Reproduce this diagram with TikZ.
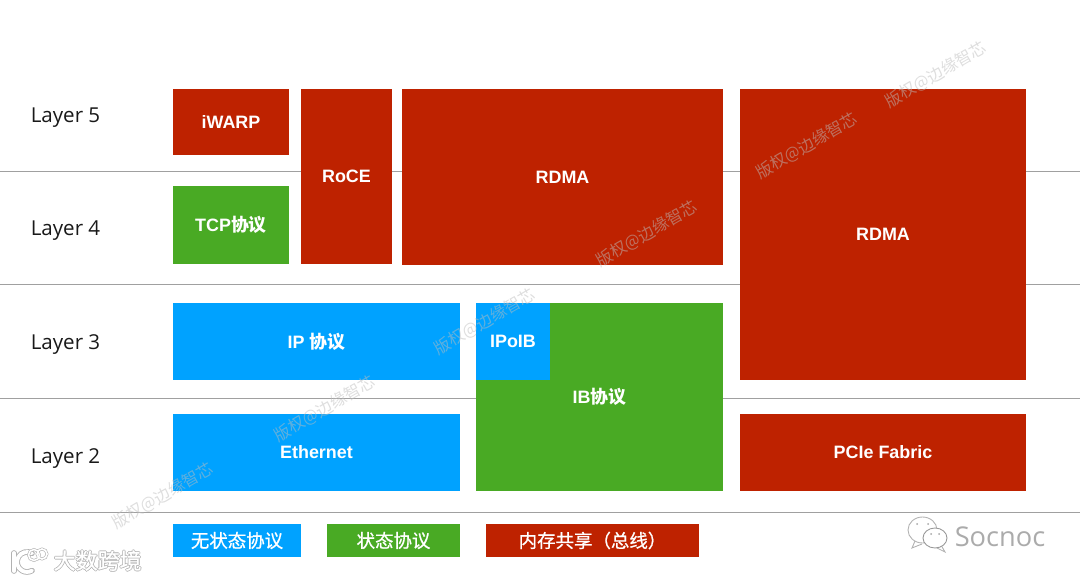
\documentclass[tikz,border=0pt]{standalone}
\usepackage{fontspec}
\setmainfont{Liberation Sans}
\newfontfamily\layerfont{Open Sans}
\newfontfamily\cjk{Noto Sans CJK SC}
\newfontfamily\cjkmed[FakeBold=0.8]{Noto Sans CJK SC}
\usetikzlibrary{positioning,calc}
\definecolor{statered}{RGB}{190,34,0}
\definecolor{stateblue}{RGB}{0,162,255}
\definecolor{stategreen}{RGB}{73,170,36}
\definecolor{layerline}{RGB}{160,160,160}
\tikzstyle{box} = [rectangle, inner sep=0pt, text=white, align=center,
                   font=\fontsize{10.2}{12}\selectfont\bfseries]
\tikzstyle{layerlabel} = [font=\fontsize{11.7}{14}\selectfont\layerfont, text=black!90]
\tikzstyle{watermark} = [rotate=30, text=black!26, text opacity=0.5,
                         font=\fontsize{9.3}{11}\selectfont\cjk]
\tikzstyle{badgeline} = [line width=\w, draw=\col]
\begin{document}
\begin{tikzpicture}[x=0.02cm, y=-0.02cm]
    \useasboundingbox (0,0) rectangle (1080,581);

    % Layer lines
    \foreach \i/\y in {1/171,2/284,3/398,4/512} {
        \coordinate (linea\i) at (0,\y);
        \coordinate (lineb\i) at (1080,\y);
        \draw[layerline, line width=0.5pt] (linea\i) -- (lineb\i);
    }

    % Layer names
    \foreach \n/\y in {5/118,4/231,3/345,2/459} {
        \node[layerlabel] (layer\n) at (65.5,\y) {Layer \n};
    }

    % Protocol boxes
    \foreach \name/\col/\l/\t/\r/\b/\txt in {
        iwarp/statered/173/89/289/155/iWARP,
        tcp/stategreen/173/186/289/264/{TCP{\cjk 协议}},
        roce/statered/301/89/392/264/RoCE,
        rdmaa/statered/402/89/723/265/RDMA,
        rdmab/statered/740/89/1026/380/RDMA,
        ip/stateblue/173/303/460/380/{IP {\cjk 协议}},
        eth/stateblue/173/414/460/491/Ethernet,
        ib/stategreen/476/303/723/491/{IB{\cjk 协议}},
        pcie/statered/740/414/1026/491/PCIe Fabric,
        ipoib/stateblue/476/303/550/380/IPoIB} {
        \node[box, fill=\col, minimum width={(\r-\l)*0.02cm}, minimum height={(\b-\t)*0.02cm}]
            (\name) at ({(\l+\r)/2},{(\t+\b)/2}) {\txt};
    }

    % Legend
    \foreach \name/\col/\l/\r/\txt in {
        stateless/stateblue/173/301/无状态协议,
        stateful/stategreen/327/460/状态协议,
        membus/statered/486/699/内存共享（总线）} {
        \node[box, fill=\col, minimum width={(\r-\l)*0.02cm}, minimum height=0.66cm,
              font=\fontsize{10.5}{12}\selectfont\cjkmed]
            (\name) at ({(\l+\r)/2},540.5) {\txt};
    }

    % Watermarks
    \foreach \i/\x/\y in {1/163/496,2/325/409,3/485/322,4/647/234,5/807/146,6/936/75} {
        \node[watermark] (mark\i) at (\x,\y) {版权@边缘智芯};
    }

    % Bottom left badge
    \foreach \i/\dx/\dy in {1/-0.8/0,2/0.8/0,3/0/-0.8,4/0/0.8} {
        \node[text=black!30, font=\fontsize{12.5}{15}\selectfont\cjkmed] (badgeedge\i)
            at (97.6+\dx,560.6+\dy) {大数跨境};
    }
    \node[text=white, font=\fontsize{12.5}{15}\selectfont\cjkmed] (badge) at (97.6,560.6) {大数跨境};
    \foreach \col/\w in {black!30/3.2pt,white/2.2pt} {
        \draw[badgeline, line cap=round] (14,553) -- (14,571);
        \draw[badgeline, line cap=round] (32,553.3) arc (-60:-300:10);
    }
    \foreach \col/\w in {black!30/1.6pt,white/0.9pt} {
        \draw[badgeline] (34,555) circle (5.5);
        \draw[badgeline] (42,554) circle (5);
    }

    % Bottom right badge
    \draw[black!30, line width=0.5pt, fill=white] (915,541) -- (912,548) -- (922,544);
    \draw[black!30, line width=0.5pt, fill=white] (922.5,530) ellipse (14.5 and 13);
    \draw[black!30, line width=0.5pt, fill=white] (941,545) -- (945,552) -- (935,547);
    \draw[black!40, line width=0.5pt, fill=white] (935,538) ellipse (12 and 10);
    \foreach \x/\y in {917/524,928/524,931/534,939/534} {
        \fill[black!35] (\x,\y) circle (1);
    }
    \node[text=black!33, font=\fontsize{15.5}{18}\selectfont\layerfont] (socnoc) at (1000,537) {Socnoc};
\end{tikzpicture}
\end{document}
